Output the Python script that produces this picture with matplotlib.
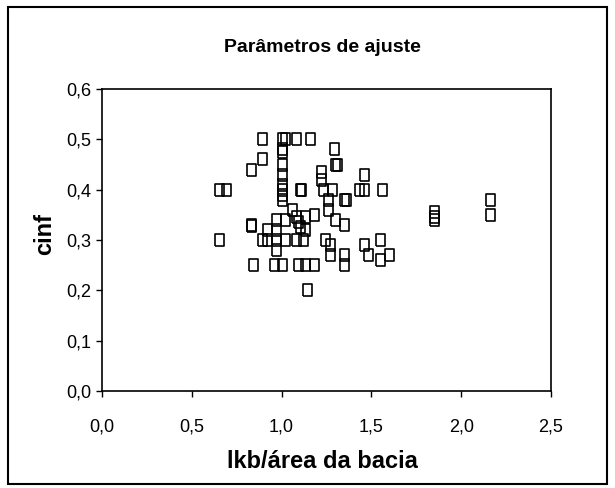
import matplotlib
matplotlib.use("Agg")
import matplotlib.pyplot as plt
from matplotlib.patches import Rectangle
from matplotlib.ticker import FuncFormatter

x_vals = [0.65, 0.65, 0.69, 0.83, 0.83, 0.83, 0.84, 0.89, 0.89, 0.89, 0.92, 0.92,
          0.96, 0.97, 0.97, 0.97, 0.97, 1.00, 1.00, 1.00, 1.00, 1.00, 1.00, 1.00,
          1.00, 1.00, 1.00, 1.02, 1.02, 1.02, 1.06, 1.08, 1.08, 1.08, 1.09, 1.10,
          1.11, 1.09, 1.10, 1.12, 1.13, 1.13, 1.13, 1.14, 1.16, 1.18, 1.18, 1.22,
          1.22, 1.23, 1.24, 1.26, 1.26, 1.27, 1.27, 1.28, 1.29, 1.30, 1.30, 1.31,
          1.35, 1.36, 1.35, 1.35, 1.35, 1.43, 1.46, 1.46, 1.46, 1.48, 1.55, 1.55,
          1.56, 1.60, 1.85, 1.85, 1.85, 2.16, 2.16]
y_vals = [0.30, 0.40, 0.40, 0.44, 0.33, 0.328, 0.25, 0.50, 0.46, 0.30, 0.32, 0.30,
          0.25, 0.34, 0.32, 0.30, 0.28, 0.50, 0.48, 0.475, 0.45, 0.43, 0.41, 0.40,
          0.39, 0.38, 0.25, 0.50, 0.34, 0.30, 0.36, 0.50, 0.345, 0.30, 0.25, 0.40,
          0.40, 0.335, 0.325, 0.30, 0.345, 0.32, 0.25, 0.20, 0.50, 0.25, 0.35, 0.435,
          0.42, 0.40, 0.30, 0.38, 0.36, 0.29, 0.27, 0.40, 0.48, 0.34, 0.45, 0.45,
          0.38, 0.38, 0.33, 0.27, 0.25, 0.40, 0.40, 0.43, 0.29, 0.27, 0.30, 0.26,
          0.40, 0.27, 0.355, 0.345, 0.34, 0.38, 0.35]

x_ticks = [0.0, 0.5, 1.0, 1.5, 2.0, 2.5]
y_ticks = [0.0, 0.1, 0.2, 0.3, 0.4, 0.5, 0.6]

plt.rcParams['font.family'] = ['Liberation Sans', 'DejaVu Sans']

fig = plt.figure(figsize=(6.15, 4.88), dpi=100)
fig.patches.append(Rectangle((8/615, 4/488), 599/615, 477/488, transform=fig.transFigure,
                             fill=False, edgecolor='black', linewidth=1.5))

ax = fig.add_axes([102/615, (488-391)/488, 449/615, 302/488])

rect_marker = [(-0.36, -0.5), (0.36, -0.5), (0.36, 0.5), (-0.36, 0.5), (-0.36, -0.5)]
ax.plot(x_vals, y_vals, linestyle='none', marker=rect_marker, markersize=9,
        markerfacecolor='none', markeredgecolor='black', markeredgewidth=1.2)

ax.set_xlim(0, 2.5)
ax.set_ylim(0, 0.6)
ax.set_xticks(x_ticks)
ax.set_yticks(y_ticks)
fmt = FuncFormatter(lambda v, p: f"{v:.1f}".replace('.', ','))
ax.xaxis.set_major_formatter(fmt)
ax.yaxis.set_major_formatter(fmt)
ax.tick_params(axis='x', direction='out', length=4, width=1, pad=16, labelsize=13)
ax.tick_params(axis='y', direction='out', length=4, width=1, pad=4, labelsize=13)
for s in ax.spines.values():
    s.set_linewidth(1.2)

fig.text(322/615, 1 - 47/488, 'Parâmetros de ajuste', ha='center', va='center',
         fontsize=14, fontweight='bold')
fig.text(45/615, 1 - 234/488, 'cinf', ha='center', va='center', rotation=90,
         fontsize=17, fontweight='bold')
fig.text(322/615, 1 - 462/488, 'lkb/área da bacia', ha='center', va='center',
         fontsize=17, fontweight='bold')

fig.savefig('out.png', dpi=100)
